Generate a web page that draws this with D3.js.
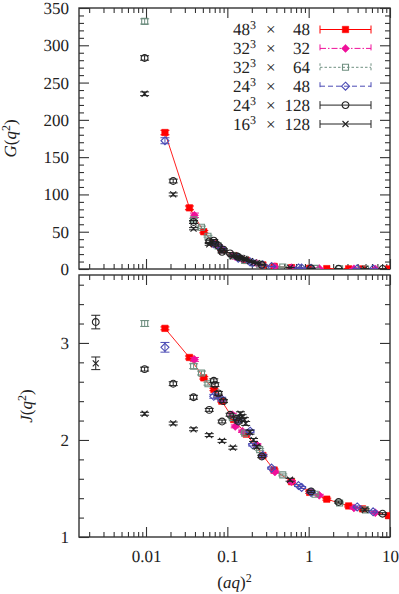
<!DOCTYPE html>
<html>
<head>
<meta charset="utf-8">
<script src="https://cdn.jsdelivr.net/npm/d3@7"></script>
<style>
  body { margin: 0; background: #fff; }
</style>
</head>
<body>
<script>
// tick values
const xTicksMajor = [0.01, 0.1, 1, 10]
const gTicks = [0, 50, 100, 150, 200, 250, 300, 350]
const jTicks = [1, 2, 3]

// legend text: spatial size and time extent
const legendL = ['48', '32', '32', '24', '24', '16']
const legendT = ['48', '32', '64', '48', '128', '128']

// 48^3 x 48
const x48x48 = [0.0171, 0.0342, 0.0513, 0.0684, 0.0855, 0.1197, 0.171, 0.2736, 0.3762, 0.6156, 1.03, 1.67, 3.1, 4.6, 9.6]
const g48x48 = [183, 82, 50, 34, 26, 18, 11.5, 5.4, 3.4, 1.8, 0.9, 0.5, 0.2, 0.12, 0.05]
const eg48x48 = [3, 2.5, 1.5, 1.2, 1, 0.8, 0.6, 0.4, 0.3, 0.2, 0.1, 0.1, 0.1, 0.1, 0.1]
const j48x48 = [3.15, 2.85, 2.64, 2.52, 2.40, 2.21, 2.06, 1.84, 1.69, 1.57, 1.46, 1.39, 1.32, 1.29, 1.22]
const ej48x48 = [0.015, 0.015, 0.012, 0.012, 0.01, 0.01, 0.01, 0.01, 0.01, 0.01, 0.01, 0.01, 0.01, 0.01, 0.01]

// 32^3 x 32
const x32x32 = [0.0394, 0.0769, 0.1153, 0.125, 0.1537, 0.2306, 0.3843, 0.6149, 1.35, 3.6, 6.6]
const g32x32 = [72, 31, 18, 16.5, 12.5, 7.5, 3.1, 1.8, 0.7, 0.2, 0.08]
const eg32x32 = [3, 1.5, 1, 1, 0.8, 0.5, 0.3, 0.2, 0.1, 0.1, 0.1]
const j32x32 = [2.83, 2.45, 2.26, 2.14, 2.09, 1.95, 1.67, 1.57, 1.43, 1.30, 1.25]
const ej32x32 = [0.02, 0.015, 0.015, 0.015, 0.012, 0.012, 0.01, 0.01, 0.01, 0.01, 0.01]

// 32^3 x 64
const x32x64 = [0.00963, 0.0385, 0.0481, 0.0578, 0.077, 0.1153, 0.1634, 0.2498, 0.48, 1.2, 2.4, 5.0]
const g32x64 = [332, 66, 56, 44, 31, 18, 11.5, 6.5, 2.6, 0.8, 0.3, 0.1]
const eg32x64 = [3.5, 2, 1.5, 1.2, 1, 0.8, 0.5, 0.4, 0.2, 0.1, 0.1, 0.1]
const j32x64 = [3.20, 2.76, 2.69, 2.58, 2.45, 2.23, 2.07, 1.90, 1.64, 1.44, 1.35, 1.28]
const ej32x64 = [0.03, 0.025, 0.02, 0.015, 0.015, 0.012, 0.012, 0.01, 0.01, 0.01, 0.01, 0.01]

// 24^3 x 48
const x24x48 = [0.0171, 0.0681, 0.0852, 0.1362, 0.1905, 0.2043, 0.2724, 0.35, 0.75, 0.82, 1.07, 3.95, 6.2]
const g24x48 = [172, 34, 27, 14.5, 9.5, 8.5, 5.5, 3.3, 1.4, 1.2, 0.9, 0.2, 0.1]
const eg24x48 = [4, 1.5, 1.2, 0.8, 0.6, 0.5, 0.4, 0.3, 0.2, 0.2, 0.1, 0.1, 0.1]
const j24x48 = [2.955, 2.45, 2.42, 2.20, 2.09, 1.95, 1.84, 1.71, 1.53, 1.51, 1.46, 1.31, 1.26]
const ej24x48 = [0.05, 0.02, 0.02, 0.015, 0.015, 0.012, 0.012, 0.01, 0.01, 0.01, 0.01, 0.01, 0.01]

// 24^3 x 128 (first point has no G in range)
const x24x128 = [0.00241, 0.00961, 0.0216, 0.0384, 0.0599, 0.0861, 0.0681, 0.0705, 0.0777, 0.0897, 0.108, 0.131, 0.137, 0.265, 1.07, 2.33, 8.1]
const g24x128 = [null, 283, 118, 63, 37, 23, 38, 35, 31, 26, 21, 17, 16, 5.5, 0.9, 0.3, 0.05]
const eg24x128 = [0, 3, 2.5, 2, 1.5, 1.5, 1.5, 1.5, 1.2, 1, 1, 0.8, 0.8, 0.4, 0.1, 0.1, 0.1]
const j24x128 = [3.215, 2.73, 2.58, 2.44, 2.31, 2.19, 2.61, 2.57, 2.48, 2.40, 2.26, 2.22, 2.19, 1.83, 1.47, 1.36, 1.24]
const ej24x128 = [0.07, 0.02, 0.02, 0.02, 0.015, 0.015, 0.02, 0.02, 0.02, 0.015, 0.015, 0.015, 0.015, 0.012, 0.01, 0.01, 0.01]

// 16^3 x 128 (first point has no G in range)
const x16x128 = [0.00241, 0.00961, 0.0216, 0.0384, 0.0599, 0.0861, 0.117, 0.145, 0.152, 0.162, 0.168, 0.19, 0.21, 0.23, 0.59, 4.9]
const g16x128 = [null, 235, 100, 54, 33, 24, 17, 15, 14.5, 13.5, 12.5, 10.5, 9, 8, 1.9, 0.15]
const eg16x128 = [0, 2.5, 2, 1.5, 1.2, 1, 0.8, 0.8, 0.8, 0.8, 0.6, 0.6, 0.5, 0.5, 0.2, 0.1]
const j16x128 = [2.79, 2.27, 2.17, 2.11, 2.05, 1.99, 1.92, 2.27, 2.24, 2.21, 2.17, 2.08, 2.00, 1.93, 1.59, 1.28]
const ej16x128 = [0.065, 0.015, 0.015, 0.015, 0.015, 0.015, 0.015, 0.02, 0.02, 0.02, 0.02, 0.02, 0.015, 0.015, 0.015, 0.01]

render()

function render() {
  const width = 399
  const height = 594
  const font = 'Liberation Serif'
  const textColor = '#222'

  const svg = d3.select('body')
    .append('svg')
      .attr('width', width)
      .attr('height', height)
      .attr('font-family', font)
      .attr('text-rendering', 'geometricPrecision')

  //plot frame edges
  const left = 79
  const right = 390
  const gTop = 8, gBottom = 269
  const jTop = 275, jBottom = 537

  const xScale = d3.scaleLog().domain([0.0015, 10]).range([left, right])
  const gScale = d3.scaleLinear().domain([0, 350]).range([gBottom, gTop])
  const jScale = d3.scaleLinear().domain([1, 3.7]).range([jBottom, jTop])

  const xMinor = xScale.ticks().filter(d => !xTicksMajor.includes(d))
  const gMinor = d3.range(0, 351, 10).filter(d => d % 50 !== 0)
  const jMinor = d3.range(1, 3.7, 0.2).map(d => +d.toFixed(1)).filter(d => d % 1 !== 0)

  const frameColor = '#333'
  const fontSize = 17

  //adds a text element with the serif font set directly on it
  const addText = (sel) => sel.append('text')
    .attr('font-family', font)
    .attr('font-size', fontSize)
    .attr('fill', textColor)

  //draws the four axes of one panel, ticks pointing inward
  function panel(yScale, yMajor, yMinorTicks, top, bottom, showX) {
    const g = svg.append('g')

    const addAxis = (axis, tf) => {
      const a = g.append('g').attr('transform', tf).call(axis)
      a.attr('font-family', font).attr('font-size', fontSize)
      a.select('.domain').remove()
      a.selectAll('line').attr('stroke', frameColor).attr('stroke-width', 1.1)
      a.selectAll('text')
        .attr('font-family', font)
        .attr('font-size', fontSize)
        .attr('fill', textColor)
      return a
    }

    addAxis(d3.axisBottom(xScale).tickValues(xTicksMajor).tickSize(-10).tickPadding(13)
      .tickFormat(d => showX ? String(d) : ''), `translate(0,${bottom})`)
    addAxis(d3.axisBottom(xScale).tickValues(xMinor).tickSize(-5).tickFormat(''), `translate(0,${bottom})`)
    addAxis(d3.axisTop(xScale).tickValues(xTicksMajor).tickSize(-10).tickFormat(''), `translate(0,${top})`)
    addAxis(d3.axisTop(xScale).tickValues(xMinor).tickSize(-5).tickFormat(''), `translate(0,${top})`)

    addAxis(d3.axisLeft(yScale).tickValues(yMajor).tickSize(-10).tickPadding(10).tickFormat(d => String(d)), `translate(${left},0)`)
    addAxis(d3.axisLeft(yScale).tickValues(yMinorTicks).tickSize(-5).tickFormat(''), `translate(${left},0)`)
    addAxis(d3.axisRight(yScale).tickValues(yMajor).tickSize(-10).tickFormat(''), `translate(${right},0)`)
    addAxis(d3.axisRight(yScale).tickValues(yMinorTicks).tickSize(-5).tickFormat(''), `translate(${right},0)`)

    g.append('rect')
      .attr('x', left).attr('y', top)
      .attr('width', right - left).attr('height', bottom - top)
      .attr('fill', 'none')
      .attr('stroke', frameColor)
      .attr('stroke-width', 1.4)
  }

  panel(gScale, gTicks, gMinor, gTop, gBottom, false)
  panel(jScale, jTicks, jMinor, jTop, jBottom, true)

  //clip paths so nothing leaves the frames
  const defs = svg.append('defs')
  defs.append('clipPath').attr('id', 'clipG')
    .append('rect').attr('x', left).attr('y', gTop).attr('width', right - left).attr('height', gBottom - gTop)
  defs.append('clipPath').attr('id', 'clipJ')
    .append('rect').attr('x', left).attr('y', jTop).attr('width', right - left).attr('height', jBottom - jTop)

  //marker paths centred on 0,0
  const circlePath = d3.path()
  circlePath.arc(0, 0, 3.4, 0, 2 * Math.PI)
  const markers = {
    fsquare: 'M-3.2,-3.2H3.2V3.2H-3.2Z',
    fdiamond: 'M0,-4L4,0L0,4L-4,0Z',
    square: 'M-3,-3H3V3H-3Z',
    diamond: 'M0,-4L4,0L0,4L-4,0Z',
    circle: circlePath.toString(),
    times: 'M-3,-3L3,3M-3,3L3,-3'
  }

  const series = [
    { x: x48x48, g: g48x48, eg: eg48x48, j: j48x48, ej: ej48x48, color: '#ff0000', mark: 'fsquare', filled: true, dash: null },
    { x: x32x32, g: g32x32, eg: eg32x32, j: j32x32, ej: ej32x32, color: '#f0109a', mark: 'fdiamond', filled: true, dash: '6,2,1.5,2' },
    { x: x32x64, g: g32x64, eg: eg32x64, j: j32x64, ej: ej32x64, color: '#6f8f80', mark: 'square', filled: false, dash: '2.5,2' },
    { x: x24x48, g: g24x48, eg: eg24x48, j: j24x48, ej: ej24x48, color: '#4b4bb4', mark: 'diamond', filled: false, dash: '5,3' },
    { x: x24x128, g: g24x128, eg: eg24x128, j: j24x128, ej: ej24x128, color: '#222', mark: 'circle', filled: false, dash: null },
    { x: x16x128, g: g16x128, eg: eg16x128, j: j16x128, ej: ej16x128, color: '#222', mark: 'times', filled: false, dash: null }
  ]

  const cap = 4.5

  function drawMarker(sel, s) {
    sel.append('path')
      .attr('d', markers[s.mark])
      .attr('fill', s.filled ? s.color : 'none')
      .attr('stroke', s.color)
      .attr('stroke-width', s.filled ? 0.6 : 1.1)
  }

  //draw both panels
  const panels = [
    { key: 'g', err: 'eg', scale: gScale, clip: 'clipG' },
    { key: 'j', err: 'ej', scale: jScale, clip: 'clipJ' }
  ]

  panels.forEach(p => {
    const layer = svg.append('g').attr('clip-path', `url(#${p.clip})`)

    //red connecting line for the 48^3 x 48 data
    const red = series[0]
    const line = d3.line()
      .x((d, i) => xScale(red.x[i]))
      .y(d => p.scale(d))
    layer.append('path')
      .attr('d', line(red[p.key]))
      .attr('fill', 'none')
      .attr('stroke', '#ff2020')
      .attr('stroke-width', 1)

    series.forEach(s => {
      const pts = s.x.map((x, i) => ({ x: x, y: s[p.key][i], e: s[p.err][i] }))
        .filter(d => d.y !== null)
      const pg = layer.append('g')
        .selectAll('g')
        .data(pts)
        .enter()
        .append('g')
          .attr('transform', d => `translate(${xScale(d.x)},${p.scale(d.y)})`)

      //error bar with caps
      pg.append('path')
        .attr('d', d => {
          const up = p.scale(d.y + d.e) - p.scale(d.y)
          const dn = p.scale(d.y - d.e) - p.scale(d.y)
          return `M0,${up}V${dn}M${-cap},${up}H${cap}M${-cap},${dn}H${cap}`
        })
        .attr('stroke', s.color)
        .attr('stroke-width', 1)
        .attr('fill', 'none')

      pg.each(function () { drawMarker(d3.select(this), s) })
    })
  })

  //legend, one text element per row
  const legend = svg.append('g')
  series.forEach((s, i) => {
    const y = 29.5 + i * 18.9
    const base = Math.round(y + 5.5)
    const row = legend.append('g')

    const t = addText(row)
      .attr('x', 233)
      .attr('y', base)
    t.append('tspan').text(legendL[i])
    t.append('tspan').attr('dy', -6.5).attr('font-size', 12).text('3')
    t.append('tspan').attr('x', 266).attr('y', base).text('× ')
    t.append('tspan').attr('x', 310).attr('y', base).attr('text-anchor', 'end').text(legendT[i])

    row.append('path')
      .attr('d', `M320,${y}H371M320,${y - 4}V${y + 4}M371,${y - 4}V${y + 4}`)
      .attr('stroke', s.color)
      .attr('stroke-width', 1)
      .attr('stroke-dasharray', s.dash)
      .attr('fill', 'none')

    const m = row.append('g').attr('transform', `translate(345.5,${y})`)
    drawMarker(m, s)
  })

  //axis titles
  const gLabel = addText(svg)
    .attr('transform', `translate(16,${(gTop + gBottom) / 2}) rotate(-90)`)
    .attr('text-anchor', 'middle')
  gLabel.append('tspan').attr('font-style', 'italic').text('G')
  gLabel.append('tspan').text('(')
  gLabel.append('tspan').attr('font-style', 'italic').text('q')
  gLabel.append('tspan').attr('dy', -6.5).attr('font-size', 12).text('2')
  gLabel.append('tspan').attr('dy', 6.5).text(')')

  const jLabel = addText(svg)
    .attr('transform', `translate(32,${(jTop + jBottom) / 2}) rotate(-90)`)
    .attr('text-anchor', 'middle')
  jLabel.append('tspan').attr('font-style', 'italic').text('J')
  jLabel.append('tspan').text('(')
  jLabel.append('tspan').attr('font-style', 'italic').text('q')
  jLabel.append('tspan').attr('dy', -6.5).attr('font-size', 12).text('2')
  jLabel.append('tspan').attr('dy', 6.5).text(')')

  const xLabel = addText(svg)
    .attr('x', (left + right) / 2)
    .attr('y', 588)
    .attr('text-anchor', 'middle')
  xLabel.append('tspan').text('(')
  xLabel.append('tspan').attr('font-style', 'italic').text('aq')
  xLabel.append('tspan').text(')')
  xLabel.append('tspan').attr('dy', -6.5).attr('font-size', 12).text('2')
}
</script>
</body>
</html>
